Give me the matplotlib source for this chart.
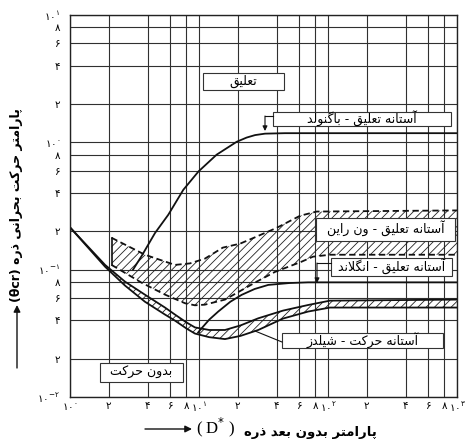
import numpy as np
import matplotlib
matplotlib.use('Agg')
import matplotlib.pyplot as plt
from matplotlib.patches import Rectangle
from matplotlib.ticker import FixedLocator, FixedFormatter, NullLocator

# ---------------- data ----------------
x_ticks = [1, 2, 4, 6, 8, 10, 20, 40, 60, 80, 100, 200, 400, 600, 800, 1000]
x_tick_labels = ['$\\mathregular{۱۰^{۰}}$', '۲', '۴', '۶', '۸',
                 '$\\mathregular{۱۰^{۱}}$', '۲', '۴', '۶', '۸',
                 '$\\mathregular{۱۰^{۲}}$', '۲', '۴', '۶', '۸',
                 '$\\mathregular{۱۰^{۳}}$']
y_ticks = [0.01, 0.02, 0.04, 0.06, 0.08, 0.1, 0.2, 0.4, 0.6, 0.8,
           1, 2, 4, 6, 8, 10]
y_tick_labels = ['$\\mathregular{۱۰^{-۲}}$', '۲', '۴', '۶', '۸',
                 '$\\mathregular{۱۰^{-۱}}$', '۲', '۴', '۶', '۸',
                 '$\\mathregular{۱۰^{۰}}$', '۲', '۴', '۶', '۸',
                 '$\\mathregular{۱۰^{۱}}$']

# Bagnold suspension threshold
bag_d = [3.08, 3.59, 4.56, 5.78, 7.56, 9.9, 13.7, 19.6, 23.4, 27.2, 32.5, 46.4, 1000]
bag_t = [0.100, 0.128, 0.194, 0.27, 0.424, 0.59, 0.80, 1.01, 1.09, 1.14, 1.17, 1.18, 1.18]

# van Rijn suspension band (upper / lower dashed edges)
vr_up_d = [2.10, 3.81, 6.51, 8.5, 11.1, 15.3, 20.8, 28.0, 40.0, 60.7, 81.7, 1000]
vr_up_t = [0.178, 0.131, 0.109, 0.112, 0.122, 0.149, 0.160, 0.182, 0.213, 0.265, 0.286, 0.292]
vr_lo_d = [2.10, 3.59, 5.45, 7.79, 9.3, 11.1, 15.9, 21.4, 28.0, 38.8, 62.5, 76.5, 104, 1000]
vr_lo_t = [0.109, 0.079, 0.0637, 0.0545, 0.0525, 0.0531, 0.0582, 0.069, 0.0805, 0.096, 0.1156, 0.1265, 0.131, 0.131]

# Engelund suspension threshold
eng_d = [9.83, 10.2, 12.0, 14.1, 17.5, 21.4, 27.0, 34.4, 50.0, 70.2, 1000]
eng_t = [0.032, 0.0336, 0.0405, 0.0469, 0.056, 0.0634, 0.0705, 0.0759, 0.0785, 0.0795, 0.0795]

# Shields initiation-of-motion band
sh_d = [1.0, 1.87, 2.67, 3.81, 5.45, 6.51, 8.0, 9.3, 12.0, 15.9, 21.0, 28.8, 44.8, 70.2, 103.5, 1000]
sh_up = [0.215, 0.109, 0.0805, 0.0636, 0.0504, 0.0444, 0.0385, 0.0352, 0.0336, 0.0336, 0.0365, 0.0415, 0.0477, 0.0528, 0.0571, 0.0582]
sh_lo = [0.215, 0.1055, 0.075, 0.056, 0.0444, 0.0398, 0.0345, 0.0315, 0.0295, 0.0285, 0.0302, 0.0336, 0.0413, 0.0469, 0.0504, 0.0504]

t_susp = 'تعلیق'
t_bag = 'آستانه تعلیق - باگنولد'
t_vr = 'آستانه تعلیق - ون راین'
t_eng = 'آستانه تعلیق - انگلاند'
t_sh = 'آستانه حرکت - شیلدز'
t_none = 'بدون حرکت'
t_ylab = 'پارامتر حرکت بحرانی ذره'
t_xlab = 'پارامتر بدون بعد ذره'

# ---------------- simple Persian shaping ----------------
FORMS = {
    '\u0627': ('\uFE8D', '\uFE8E', None, None),
    '\u0622': ('\uFE81', '\uFE82', None, None),
    '\u0628': ('\uFE8F', '\uFE90', '\uFE91', '\uFE92'),
    '\u067E': ('\uFB56', '\uFB57', '\uFB58', '\uFB59'),
    '\u062A': ('\uFE95', '\uFE96', '\uFE97', '\uFE98'),
    '\u062D': ('\uFEA1', '\uFEA2', '\uFEA3', '\uFEA4'),
    '\u062F': ('\uFEA9', '\uFEAA', None, None),
    '\u0630': ('\uFEAB', '\uFEAC', None, None),
    '\u0631': ('\uFEAD', '\uFEAE', None, None),
    '\u0632': ('\uFEAF', '\uFEB0', None, None),
    '\u0633': ('\uFEB1', '\uFEB2', '\uFEB3', '\uFEB4'),
    '\u0634': ('\uFEB5', '\uFEB6', '\uFEB7', '\uFEB8'),
    '\u0639': ('\uFEC9', '\uFECA', '\uFECB', '\uFECC'),
    '\u0642': ('\uFED5', '\uFED6', '\uFED7', '\uFED8'),
    '\u06A9': ('\uFB8E', '\uFB8F', '\uFB90', '\uFB91'),
    '\u06AF': ('\uFB92', '\uFB93', '\uFB94', '\uFB95'),
    '\u0644': ('\uFEDD', '\uFEDE', '\uFEDF', '\uFEE0'),
    '\u0645': ('\uFEE1', '\uFEE2', '\uFEE3', '\uFEE4'),
    '\u0646': ('\uFEE5', '\uFEE6', '\uFEE7', '\uFEE8'),
    '\u0647': ('\uFEE9', '\uFEEA', '\uFEEB', '\uFEEC'),
    '\u0648': ('\uFEED', '\uFEEE', None, None),
    '\u06CC': ('\uFBFC', '\uFBFD', '\uFBFE', '\uFBFF'),
}
LAMALEF = {'\u0627': ('\uFEFB', '\uFEFC'), '\u0622': ('\uFEF5', '\uFEF6')}


def shape(s):
    ch = list(s)
    n = len(ch)

    def dual(c):
        return c in FORMS and FORMS[c][2] is not None

    res = []
    i = 0
    while i < n:
        c = ch[i]
        if c not in FORMS:
            res.append(c)
            i += 1
            continue
        prev = ch[i - 1] if i > 0 else None
        jp = prev is not None and dual(prev)
        if c == '\u0644' and i + 1 < n and ch[i + 1] in LAMALEF:
            lig = LAMALEF[ch[i + 1]]
            res.append(lig[1] if jp else lig[0])
            i += 2
            continue
        nxt = ch[i + 1] if i + 1 < n else None
        jn = dual(c) and nxt is not None and nxt in FORMS
        iso, fin, ini, med = FORMS[c]
        if jp and jn:
            res.append(med)
        elif jp:
            res.append(fin)
        elif jn:
            res.append(ini)
        else:
            res.append(iso)
        i += 1
    return ''.join(reversed(res))


# ---------------- figure ----------------
W, H = 466, 448
fig = plt.figure(figsize=(W / 100, H / 100), dpi=100)
ax = fig.add_axes([70 / W, 1 - 397 / H, 387 / W, 382 / H])
ax.set_xscale('log')
ax.set_yscale('log')
ax.set_xlim(1, 1000)
ax.set_ylim(0.01, 10)


def fp(px, py):
    return (px / W, 1 - py / H)


ax.xaxis.set_major_locator(FixedLocator(x_ticks))
ax.xaxis.set_major_formatter(FixedFormatter(x_tick_labels))
ax.xaxis.set_minor_locator(NullLocator())
ax.yaxis.set_major_locator(FixedLocator(y_ticks))
ax.yaxis.set_major_formatter(FixedFormatter(y_tick_labels))
ax.yaxis.set_minor_locator(NullLocator())
ax.tick_params(length=0, labelsize=7.5)
ax.tick_params(axis='x', pad=3)
ax.tick_params(axis='y', pad=7)
ax.grid(True, color='#303030', lw=0.8, zorder=0)
ax.set_axisbelow(True)
for s in ax.spines.values():
    s.set_linewidth(1.0)
    s.set_color('#222222')

plt.rcParams['hatch.linewidth'] = 0.6

# van Rijn band
poly_x = np.concatenate([vr_up_d, vr_lo_d[::-1]])
poly_y = np.concatenate([vr_up_t, vr_lo_t[::-1]])
ax.fill(poly_x, poly_y, facecolor='none', edgecolor='#222222', hatch='////',
        linewidth=0, zorder=1)
ax.plot(vr_up_d, vr_up_t, color='#111111', lw=1.3, ls=(0, (3.5, 2)), zorder=2)
ax.plot(vr_lo_d, vr_lo_t, color='#111111', lw=1.3, ls=(0, (3.5, 2)), zorder=2)
ax.plot([vr_up_d[0], vr_lo_d[0]], [vr_up_t[0], vr_lo_t[0]], color='#111111',
        lw=1.2, zorder=2)

# Shields band
sx = np.concatenate([sh_d, sh_d[::-1]])
sy = np.concatenate([sh_up, sh_lo[::-1]])
ax.fill(sx, sy, facecolor='none', edgecolor='#222222', hatch='////',
        linewidth=0, zorder=1)
ax.plot(sh_d, sh_up, color='#111111', lw=1.3, zorder=2)
ax.plot(sh_d, sh_lo, color='#111111', lw=1.3, zorder=2)

# Bagnold and Engelund
ax.plot(bag_d, bag_t, color='#111111', lw=1.3, zorder=2)
ax.plot(eng_d, eng_t, color='#111111', lw=1.3, zorder=2)


def box(x0, y0, x1, y1, text, tx=None, ty=None, fs=9):
    ax.add_patch(Rectangle(fp(x0, y1), (x1 - x0) / W, (y1 - y0) / H,
                           transform=fig.transFigure, facecolor='white',
                           edgecolor='#333333', lw=0.8, zorder=5))
    cx = (x0 + x1) / 2 if tx is None else tx
    cy = (y0 + y1) / 2 if ty is None else ty
    ax.text(*fp(cx, cy), shape(text), transform=fig.transFigure, ha='center',
            va='center', fontsize=fs, zorder=6, family='DejaVu Sans')


box(203, 73, 284, 90, t_susp)
box(273, 112, 451, 126, t_bag)
box(316, 218, 455, 241, t_vr, ty=229)
box(331, 258, 452, 276, t_eng)
box(282, 333, 443, 348, t_sh)
box(100, 363, 183, 382, t_none)

# leaders
ap = dict(arrowstyle='-|>', color='#111111', lw=0.8, mutation_scale=7,
          shrinkA=0, shrinkB=0)
ax.plot([fp(273, 0)[0], fp(265, 0)[0]], [fp(0, 116)[1]] * 2,
        transform=fig.transFigure, color='#111111', lw=0.8, zorder=6)
ax.annotate('', xy=fp(265, 131), xytext=fp(265, 116), xycoords='figure fraction',
            textcoords='figure fraction', arrowprops=ap, annotation_clip=False,
            zorder=6)
ax.plot([fp(331, 0)[0], fp(317, 0)[0]], [fp(0, 263)[1]] * 2,
        transform=fig.transFigure, color='#111111', lw=0.8, zorder=6)
ax.annotate('', xy=fp(317, 283), xytext=fp(317, 263), xycoords='figure fraction',
            textcoords='figure fraction', arrowprops=ap, annotation_clip=False,
            zorder=6)
ax.plot([fp(282, 0)[0], fp(255, 0)[0]], [fp(0, 342)[1], fp(0, 331)[1]],
        transform=fig.transFigure, color='#111111', lw=0.8, zorder=6)

# axis labels
fig.text(*fp(17, 205), '(θcr) ' + shape(t_ylab), rotation=90, ha='center',
         va='center', fontsize=9, fontweight='bold', family='DejaVu Sans')
ax.annotate('', xy=fp(17, 305), xytext=fp(17, 368), xycoords='figure fraction',
            textcoords='figure fraction', annotation_clip=False,
            arrowprops=dict(arrowstyle='-|>', color='#111111', lw=1.0,
                            mutation_scale=10, shrinkA=0, shrinkB=0))
ax.annotate('', xy=fp(192, 429), xytext=fp(145, 429), xycoords='figure fraction',
            textcoords='figure fraction', annotation_clip=False,
            arrowprops=dict(arrowstyle='-|>', color='#111111', lw=1.0,
                            mutation_scale=10, shrinkA=0, shrinkB=0))
fig.text(*fp(216, 427), '( D$^{*}$ )', ha='center', va='center', fontsize=12,
         family='Liberation Serif')
fig.text(*fp(244, 432), shape(t_xlab), ha='left', va='center', fontsize=9.5,
         fontweight='bold', family='DejaVu Sans')

fig.savefig('out.png', dpi=100)
